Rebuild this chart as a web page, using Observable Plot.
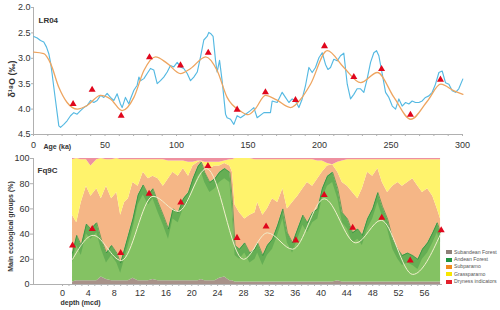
<!DOCTYPE html>
<html><head><meta charset="utf-8">
<script src="https://cdn.jsdelivr.net/npm/d3@7"></script>
<script src="https://cdn.jsdelivr.net/npm/@observablehq/plot@0.6"></script>
<style>
body{margin:0;background:#fff;font-family:"Liberation Sans",Arial,sans-serif;}
#wrap{position:relative;width:500px;height:310px;overflow:hidden;background:#fff}
#top,#bot{position:absolute;left:0}
#top{top:0}#bot{top:152px}
#legend{position:absolute;left:446px;top:248.6px;font-size:5.2px;color:#555;line-height:7.4px}
.li{display:flex;align-items:center;height:7.4px;white-space:nowrap}
.sw{width:6px;height:4px;margin-right:2px;flex:none}
</style></head><body>
<div id="wrap"><div id="top"></div><div id="bot"></div><div id="legend"></div></div>
<script>
// ---------- Top panel: LR04 benthic d18O ----------
const lr04Age = [
  0.2,2.6,4.9,7.2,9.1,10.7,11.9,13.0,14.2,15.4,
  16.6,17.7,18.9,21.2,23.5,25.9,28.2,30.5,32.9,35.2,
  37.5,39.9,42.2,44.5,46.9,49.2,51.5,53.8,56.2,58.5,
  60.8,62.0,64.3,66.7,67.8,70.2,72.5,73.7,74.8,77.2,
  79.5,81.8,84.1,86.5,88.8,91.1,93.5,95.8,98.1,100.5,
  102.8,105.1,107.5,109.8,112.1,114.5,116.8,119.1,121.4,122.6,
  123.8,125.6,127.3,128.4,130.1,131.9,134.3,135.4,137.8,140.1,
  142.4,144.8,148.3,151.7,
  154.1,156.4,161.1,165.7,166.9,170.4,173.9,176.2,178.6,180.9,
  183.2,185.6,187.9,190.2,192.6,194.9,197.2,199.6,201.9,204.2,
  205.9,207.7,210.0,212.4,214.7,217.0,219.4,221.7,224.0,226.3,
  228.7,231.0,233.3,235.7,238.0,239.9,241.5,243.9,246.2,248.5,
  250.9,253.2,255.5,257.8,260.2,262.5,264.8,267.1,269.5,271.8,
  274.1,276.5,278.8,281.1,283.5,285.8,288.1,290.5,292.8,295.1,
  297.4,300.2];
const lr04Val = [
  2.57,2.60,2.65,2.68,2.78,2.91,3.08,3.30,3.57,3.83,
  4.09,4.33,4.36,4.30,4.23,4.13,4.07,4.10,4.03,3.97,
  3.93,3.83,3.87,3.83,3.73,3.77,3.69,3.77,3.83,3.70,
  3.90,3.97,3.77,3.90,3.80,3.63,3.53,3.37,3.44,3.40,
  3.30,3.20,3.23,3.50,3.44,3.37,3.27,3.14,3.17,3.08,
  3.17,3.20,3.30,3.44,3.37,3.27,2.97,2.64,2.57,2.49,
  2.51,2.57,3.04,3.27,3.04,3.44,4.10,4.17,4.20,4.30,
  4.13,4.17,4.10,4.03,
  3.97,4.17,4.07,4.07,3.84,3.87,3.67,3.77,3.87,3.80,
  3.84,3.97,3.80,3.54,3.18,3.28,3.18,2.99,2.89,3.12,
  3.22,3.18,3.02,3.05,2.95,2.90,3.51,3.80,3.71,3.60,
  3.60,3.67,3.41,3.08,2.89,2.85,2.95,3.31,3.67,3.77,
  3.94,4.00,3.80,3.94,3.87,3.90,3.84,3.87,3.87,3.84,
  3.77,3.74,3.67,3.51,3.28,3.25,3.48,3.51,3.64,3.67,
  3.60,3.41];
const smoothTopAge = [0.2,7.2,11.9,17.7,23.5,30.6,37.5,46.9,53.8,62,70.2,77.2,85.3,93.5,102.8,109.9,120.4,128.4,135.4,144.8,150,155,162.2,170,179.7,187,193.7,205.4,217,228.8,240.5,252.1,263.8,275.5,284.8,294.1,300.3];
const smoothTopVal = [2.88,2.91,3.10,3.57,3.87,4.00,3.93,3.73,3.80,4.03,3.77,3.24,2.97,3.10,3.30,3.20,2.97,3.24,3.77,4.04,4.11,4.00,3.73,3.82,3.97,3.80,3.51,2.85,3.18,3.48,3.28,3.77,4.20,3.84,3.51,3.64,3.71];
const triTopAge = [27.7,41,61.3,81.1,102.8,122.2,142.4,162.2,183.2,203.5,224,243.4,263.6,284.6];
const triTopVal = [3.90,3.62,4.13,2.98,3.14,2.89,4.01,3.67,3.82,2.76,3.37,3.21,4.11,3.42];
const ageTicks = [0,50,100,150,200,250,300];
const d18oTicks = [2.0,2.5,3.0,3.5,4.0,4.5];

// ---------- Bottom panel: Fq9C ecological groups ----------
const depth = [1.55,2.2,2.9,3.7,4.4,5.3,6.0,6.8,7.6,8.4,9.0,9.6,10.2,10.9,11.7,12.5,13.3,14.0,14.8,15.6,
  16.4,17.1,17.9,18.7,19.5,20.2,21.0,21.5,22.0,22.8,23.6,24.3,25.1,25.9,26.3,26.7,27.4,28.2,29.0,29.8,
  30.2,31.0,31.7,32.5,33.3,34.1,34.8,35.6,36.4,37.2,37.9,38.7,39.5,40.2,41.0,41.8,42.6,43.3,44.1,44.9,
  45.7,46.4,47.2,48.0,48.8,49.5,50.3,51.1,51.9,52.6,53.4,54.2,55.0,55.7,56.5,57.3,58.0,58.5];
const subandean = [2,3,3,3,3,3,6,4,3,3,3,3,3,5,3,3,3,4,3,3,
  3,3,3,3,3,3,3,4,3,3,3,5,6,3,3,2,2,2,2,2,
  2,2,2,2,2,2,2,2,2,2,2,2,2,2,2,2,3,2,2,2,
  2,2,2,2,2,2,2,2,2,2,2,2,2,2,2,2,2,2];
const andean = [23,36,28,45,41,46,30,21,28,22,14,25,36,47,68,76,68,72,62,52,
  41,57,54,65,70,81,91,93,86,78,81,84,86,86,62,29,26,31,23,26,
  31,21,29,34,45,58,39,31,42,53,47,55,58,74,84,87,73,55,50,39,
  42,37,50,58,71,60,50,34,26,21,23,21,18,26,31,39,47,39];
const subparamo = [30,10,34,30,26,27,32,53,37,48,38,37,29,29,7,10,13,10,19,23,
  40,29,29,24,13,10,3,1,5,11,10,5,4,5,24,32,29,19,30,29,
  32,32,29,32,18,16,19,32,26,21,32,21,24,13,8,6,13,24,26,32,
  24,37,37,26,19,19,21,42,53,55,56,61,58,45,43,29,11,11];
const grassparamo = [44,51,34,21,24,23,32,21,31,27,44,34,31,18,21,10,15,13,15,21,
  14,9,12,6,11,3,1,0,3,5,3,3,2,5,10,37,43,48,45,42,
  34,44,39,31,34,23,39,34,29,23,18,21,14,9,2,0,8,17,21,26,
  31,23,10,13,7,18,26,21,18,21,18,15,21,26,23,29,39,47];
const dryness = [1,0,1,1,6,1,0,1,1,0,1,1,1,1,1,1,1,1,1,1,
  2,2,2,2,3,3,2,2,3,3,3,3,2,1,1,0,0,0,0,1,
  1,1,1,1,1,1,1,1,1,1,1,1,2,2,4,5,3,2,1,1,
  1,1,1,1,1,1,1,1,1,1,1,1,1,1,1,1,1,1];
const smoothBotDepth = [1.55,4.75,9.1,14.0,17.9,22.3,28.0,31.7,35.6,40.5,45.4,49.3,54.2,58.5];
const smoothBotVal = [20,39,19,70,58,92,20,41,28,68,33,51,8,40];
const triBotDepth = [1.55,4.6,9.0,13.4,18.3,22.5,27.0,31.5,36.1,40.5,44.9,49.4,53.8,58.6];
const triBotVal = [31,44,25,72,65,94,37,46,35,71,45,53,19,43];
const depthTicks = [0,4,8,12,16,20,24,28,32,36,40,44,48,52,56];
const pctTicks = [0,20,40,60,80,100];

const groups = ["Subandean Forest","Andean Forest","Subparamo","Grassparamo","Dryness indicators"];
const areaColors = ["#a8928a","#84c263","#f5b686","#fff36c","#ee90a0"];
const legendColors = ["#8f8079","#1f9440","#f08a1e","#f7e600","#e3202c"];

// build tables
const lr04 = lr04Age.map((a,i)=>({age:a, v:lr04Val[i]}));
const smoothTop = smoothTopAge.map((a,i)=>({age:a, v:smoothTopVal[i]}));
const triTop = triTopAge.map((a,i)=>({age:a, v:triTopVal[i]}));
const seriesVals = [subandean, andean, subparamo, grassparamo, dryness];
const long = [];
depth.forEach((d,i)=>groups.forEach((g,k)=>long.push({depth:d, group:g, value:seriesVals[k][i]})));
const forest = depth.map((d,i)=>({depth:d, top: subandean[i]+andean[i], base: Math.max(subandean[i], subandean[i]+andean[i]-8)}));
const smoothBot = smoothBotDepth.map((d,i)=>({depth:d, v:smoothBotVal[i]}));
const triBot = triBotDepth.map((d,i)=>({depth:d, v:triBotVal[i]}));

const font = "Liberation Sans, Arial, sans-serif";
const axisGrey = "#b0b0b0";

const topPlot = Plot.plot({
  width: 500, height: 152,
  marginLeft: 33, marginRight: 38, marginTop: 7, marginBottom: 18,
  style: {fontFamily: font, fontSize: "9px", color: "#333", background: "transparent"},
  x: {domain: [0, 300]},
  y: {domain: [2.0, 4.5], reverse: true},
  marks: [
    Plot.ruleX([0], {stroke: axisGrey}),
    Plot.ruleY([4.5], {stroke: axisGrey}),
    Plot.axisY({ticks: d18oTicks, tickFormat: d3.format(".1f"), tickSize: 2, tickPadding: 1, stroke: axisGrey, label: null}),
    Plot.axisX({ticks: d3.range(0, 301, 10), tickFormat: d => ageTicks.includes(d) ? String(d) : "", tickSize: 2, tickPadding: 5, stroke: axisGrey, label: null}),
    Plot.line(lr04, {x: "age", y: "v", stroke: "#55b9e2", strokeWidth: 1.15}),
    Plot.line(smoothTop, {x: "age", y: "v", stroke: "#eea560", strokeWidth: 1.3, curve: "monotone-x"}),
    Plot.dot(triTop, {x: "age", y: "v", symbol: "triangle", fill: "#e0061c", r: 2.6}),
    Plot.text(["LR04"], {frameAnchor: "top-left", dx: 5, dy: 13, lineAnchor: "middle", fontWeight: "bold", fontSize: 8}),
    Plot.text(["Age (ka)"], {frameAnchor: "bottom-left", dx: 10, dy: 12, lineAnchor: "middle", fontWeight: "bold", fontSize: 7}),
    Plot.text(["δ¹⁸O (‰)"], {frameAnchor: "left", rotate: -90, dx: -21, dy: 8, textAnchor: "middle", lineAnchor: "middle", fontWeight: "bold", fontSize: 9})
  ]
});
document.getElementById("top").appendChild(topPlot);

const botPlot = Plot.plot({
  width: 500, height: 158,
  marginLeft: 33, marginRight: 58, marginTop: 6, marginBottom: 26,
  style: {fontFamily: font, fontSize: "9px", color: "#333", background: "transparent"},
  x: {domain: [-4.49, 58.8]},
  y: {domain: [0, 100]},
  color: {domain: groups, range: areaColors},
  marks: [
    Plot.areaY(long, {x: "depth", y: "value", fill: "group", order: groups}),
    Plot.areaY(forest, {x: "depth", y1: "base", y2: "top", fill: "#2b8a3a", fillOpacity: 0.35}),
    Plot.line(forest, {x: "depth", y: "top", stroke: "#2b8a3a", strokeWidth: 0.8, strokeOpacity: 0.8}),
    Plot.ruleX([-4.49], {stroke: axisGrey}),
    Plot.ruleY([0], {stroke: axisGrey}),
    Plot.axisY({ticks: pctTicks, tickSize: 3, tickPadding: 1, stroke: axisGrey, label: null}),
    Plot.axisX({ticks: d3.range(0, 59, 1), tickFormat: d => depthTicks.includes(d) ? String(d) : "", tickSize: 2, tickPadding: 3, stroke: axisGrey, label: null}),
    Plot.line(smoothBot, {x: "depth", y: "v", stroke: "#f1efcc", strokeWidth: 1.0, curve: "monotone-x"}),
    Plot.dot(triBot, {x: "depth", y: "v", symbol: "triangle", fill: "#e0061c", r: 2.6}),
    Plot.text(["Fq9C"], {frameAnchor: "top-left", dx: 4, dy: 12, lineAnchor: "middle", fontWeight: "bold", fontSize: 8}),
    Plot.text(["depth (mcd)"], {frameAnchor: "bottom-left", dx: 27, dy: 18, lineAnchor: "middle", fontWeight: "bold", fontSize: 7}),
    Plot.text(["Main ecological groups (%)"], {frameAnchor: "left", rotate: -90, dx: -23, dy: 5, textAnchor: "middle", lineAnchor: "middle", fontWeight: "bold", fontSize: 7})
  ]
});
document.getElementById("bot").appendChild(botPlot);

// legend
const leg = document.getElementById("legend");
groups.forEach((g, i) => {
  const row = document.createElement("div"); row.className = "li";
  const sw = document.createElement("span"); sw.className = "sw"; sw.style.background = legendColors[i];
  const tx = document.createElement("span"); tx.textContent = g;
  row.appendChild(sw); row.appendChild(tx); leg.appendChild(row);
});
</script></body></html>
